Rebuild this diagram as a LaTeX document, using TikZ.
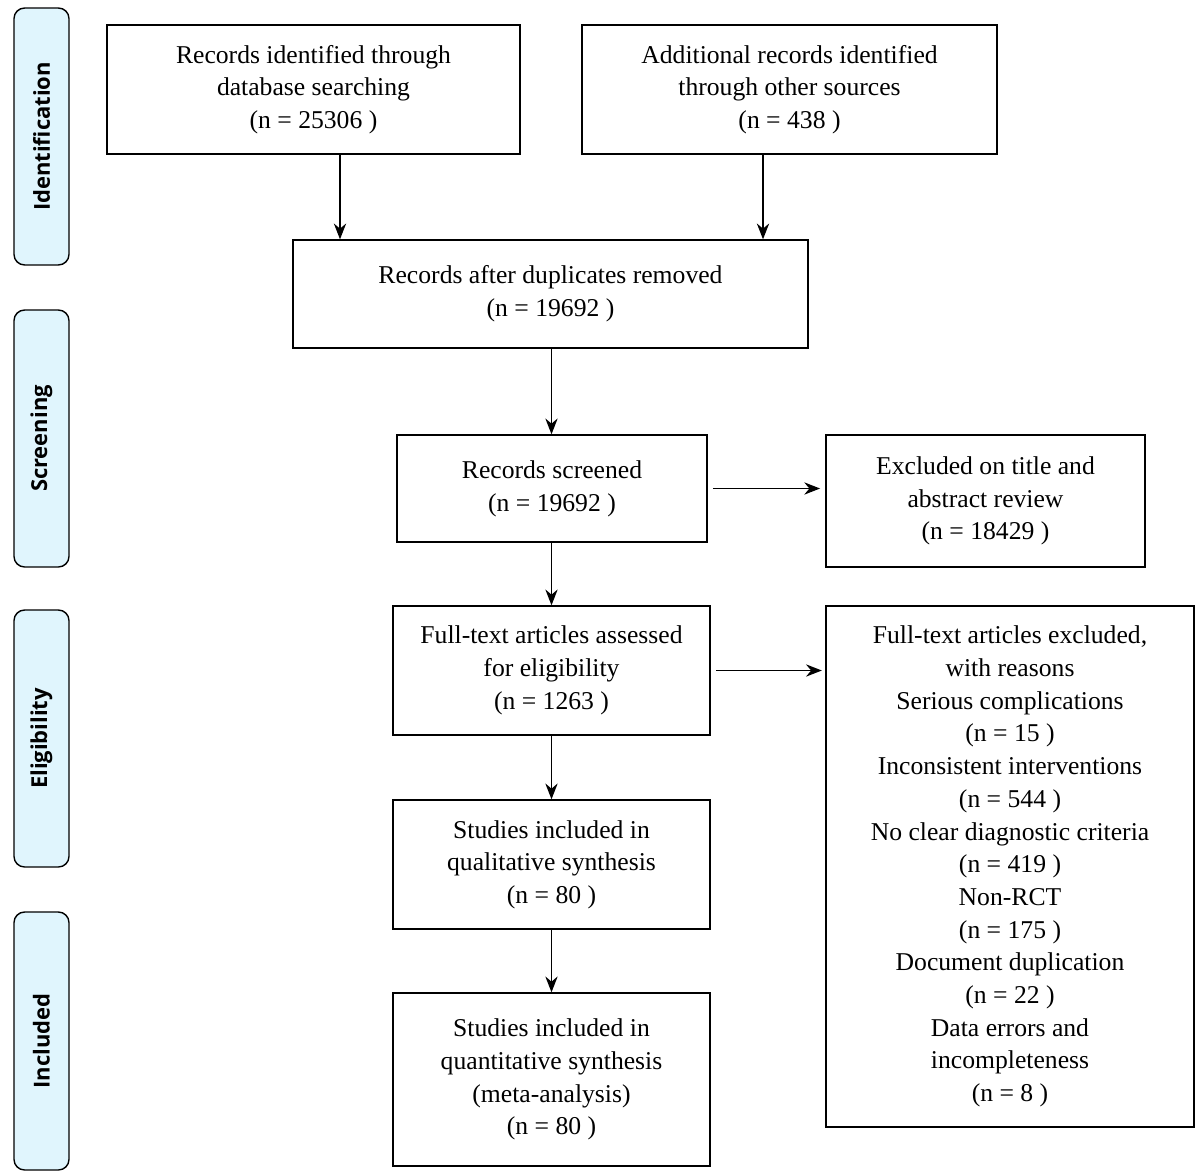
\documentclass[tikz,border=0pt]{standalone}
\usepackage{fontspec}
\setmainfont{Liberation Serif}
\newfontfamily\sidefont{Open Sans}
\usetikzlibrary{arrows.meta}
\tikzset{
    box/.style={draw, line width=0.8pt, align=center, inner sep=2pt,
        font=\fontsize{14.6}{18.6}\selectfont},
    phase/.style={draw, line width=0.8pt, rounded corners=6pt, fill=cyan!12,
        minimum height=1.1cm, rotate=90, font=\sidefont\bfseries\fontsize{12.5}{14}\selectfont},
    arr/.style={-{Stealth[length=9pt,width=7pt]}, line width=0.8pt}
}
\begin{document}
\begin{tikzpicture}[x=0.02cm, y=-0.02cm]
    \useasboundingbox (0,0) rectangle (1200,1176);
    % phases
    \node[phase, minimum width=5.14cm] (ident) at (41.5,136.5) {Identification};
    \node[phase, minimum width=5.14cm] (scr) at (41.5,438.5) {Screening};
    \node[phase, minimum width=5.14cm] (elig) at (41.5,738.5) {Eligibility};
    \node[phase, minimum width=5.16cm] (incl) at (41.5,1041) {Included};
    % boxes
    \node[box, minimum width=8.26cm, minimum height=2.58cm] (db) at (313.5,89.5)
        {Records identified through\\database searching\\(n = 25306 )};
    \node[box, minimum width=8.3cm, minimum height=2.58cm] (other) at (789.5,89.5)
        {Additional records identified\\through other sources\\(n = 438 )};
    \node[box, minimum width=10.3cm, minimum height=2.16cm] (dup) at (550.5,294)
        {Records after duplicates removed\\(n = 19692 )};
    \node[box, minimum width=6.2cm, minimum height=2.14cm] (screen) at (552,488.5)
        {Records screened\\(n = 19692 )};
    \node[box, minimum width=6.38cm, minimum height=2.64cm] (exttl) at (985.5,501)
        {Excluded on title and\\abstract review\\(n = 18429 )};
    \node[box, minimum width=6.34cm, minimum height=2.58cm] (full) at (551.5,670.5)
        {Full-text articles assessed\\for eligibility\\(n = 1263 )};
    \node[box, minimum width=7.36cm, minimum height=10.42cm] (exfull) at (1010,866.5)
        {Full-text articles excluded,\\with reasons\\Serious complications\\(n = 15 )\\
         Inconsistent interventions\\(n = 544 )\\No clear diagnostic criteria\\(n = 419 )\\
         Non-RCT\\(n = 175 )\\Document duplication\\(n = 22 )\\Data errors and\\incompleteness\\(n = 8 )};
    \node[box, minimum width=6.34cm, minimum height=2.58cm] (qual) at (551.5,864.5)
        {Studies included in\\qualitative synthesis\\(n = 80 )};
    \node[box, minimum width=6.34cm, minimum height=3.46cm] (quant) at (551.5,1079.5)
        {Studies included in\\quantitative synthesis\\(meta-analysis)\\(n = 80 )};
    % arrows
    \coordinate (dbx) at (340,0);
    \coordinate (otx) at (763,0);
    \coordinate (midx) at (551.5,0);
    \draw[arr] (db.south -| dbx) -- (dup.north -| dbx);
    \draw[arr] (other.south -| otx) -- (dup.north -| otx);
    \draw[arr] (dup.south -| midx) -- (screen.north -| midx);
    \draw[arr] (screen.south -| midx) -- (full.north -| midx);
    \draw[arr] (full) -- (qual);
    \draw[arr] (qual) -- (quant);
    \draw[arr] ([xshift=3pt]screen.east) -- ([xshift=-3pt]screen.east -| exttl.west);
    \draw[arr] ([xshift=3pt]full.east) -- ([xshift=-2pt]full.east -| exfull.west);
\end{tikzpicture}
\end{document}
